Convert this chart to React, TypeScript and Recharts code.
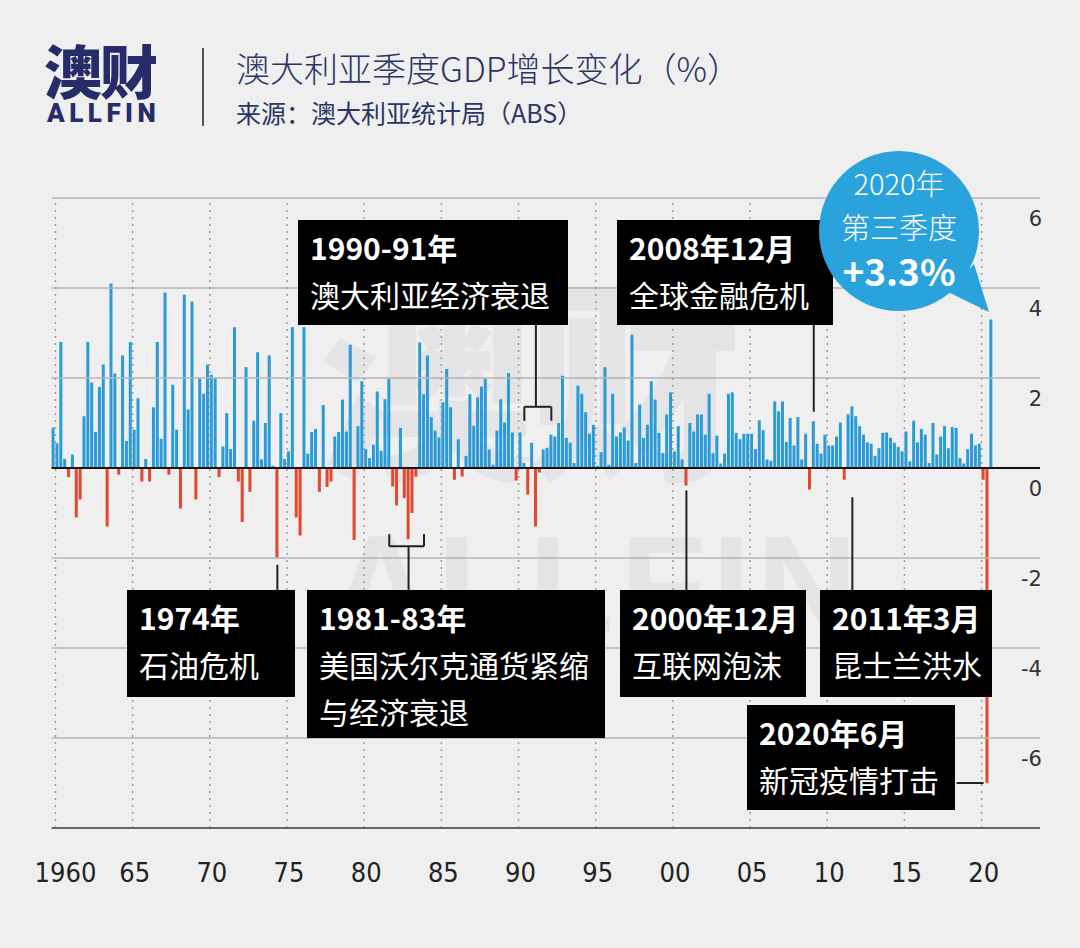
import React from 'react';
import { BarChart, Bar, XAxis, YAxis, ReferenceLine, Cell } from 'recharts';

// quarterly GDP growth, % q/q
const g1959 = [0.9];
const g1960s = [
  0.55, 2.8, 0.2, -0.2, 0.3, -1.1, -0.7, 1.15, 2.8, 1.9, 0.8, 1.8, 2.3, -1.3, 4.1, 2.1, -0.15, 2.5, 0.6, 2.8,
  0.85, 1.55, -0.3, 0.2, -0.3, 1.35, 2.8, 0.65, 3.9, -0.15, 1.85, 0.85, -0.9, 3.85, 1.3, 3.7, -0.7, 2.0, 1.65, 2.3,
];
const g1970s = [
  2.07, 2.0, -0.2, 0.48, 1.22, 0.42, 3.13, -0.3, -1.2, 2.24, -0.53, 1.05, 2.57, 0.19, 1.0, 2.5, 0.05, -2.0, 1.22, 0.2,
  0.37, 3.13, -1.1, -1.5, 3.13, 0.32, 0.8, 0.87, -0.53, 1.4, -0.42, -0.3, 0.7, 0.8, 1.52, 0.81, 2.74, -1.6, 0.93, 1.93,
];
const g1980s = [
  0.42, 0.22, 0.52, 1.7, 0.38, 1.53, 1.98, -0.41, -0.83, 0.89, -0.67, -1.58, -1.0, -0.19, 2.79, 1.64, 2.5, 1.13, 0.83, 0.68,
  1.46, 2.2, 1.35, -0.26, 0.64, -0.19, 0.27, 1.64, 0.94, 1.57, 1.81, 1.98, 0.41, 0.07, 0.83, 1.53, 1.01, 2.11, 0.79, -0.28,
];
const g1990s = [
  0.79, 0.11, -0.59, 0.56, -1.3, -0.1, 0.41, 0.45, 0.74, 0.7, 1.0, 2.05, 0.67, 0.56, 0.11, 1.83, 1.65, 1.24, 0.76, 0.96,
  0.05, 0.35, 2.24, 0.07, 1.65, 0.7, 0.79, 0.9, 0.61, 2.96, 0.11, 1.41, 0.67, 0.96, 1.93, 1.52, 0.78, 0.33, 1.19, 1.68,
];
const g2000s = [
  0.37, 0.93, 0.19, -0.39, 1.0, 0.81, 1.19, 1.19, 0.74, 1.65, 0.33, 0.72, 0.1, 0.32, 1.65, 1.68, 0.78, 0.64, 0.76, 0.76,
  0.76, 0.42, 1.06, 0.84, 0.19, 0.16, 1.48, 1.26, 1.48, 0.58, 1.11, 0.5, 1.13, 0.19, 0.76, -0.48, 1.04, 0.54, 0.32, 0.74,
];
const g2010s = [
  0.5, 0.5, 0.7, 1.01, -0.26, 1.19, 1.37, 1.15, 0.93, 0.74, 0.57, 0.54, 0.27, 0.44, 0.78, 0.79, 0.67, 0.56, 0.47, 0.37,
  0.81, 0.15, 1.05, 0.57, 0.87, 0.74, 0.11, 1.0, 0.3, 0.7, 0.93, 0.44, 0.91, 0.89, 0.22, 0.1, 0.42, 0.76, 0.5, 0.54,
];
const g2020s = [-0.26, -7.0, 3.3];

const growth = [...g1959, ...g1960s, ...g1970s, ...g1980s, ...g1990s, ...g2000s, ...g2010s, ...g2020s];

const quarters: string[] = ['1959Q4'];
for (let y = 1960; y <= 2020; y++) {
  for (let q = 1; q <= 4; q++) quarters.push(`${y}Q${q}`);
}

const data = growth.map((v, i) => ({ quarter: quarters[i], growth: v }));

const yearKeys = ['1960Q1', '1965Q1', '1970Q1', '1975Q1', '1980Q1', '1985Q1', '1990Q1', '1995Q1', '2000Q1', '2005Q1', '2010Q1', '2015Q1', '2020Q1'];
const yearLabels = ['1960', '65', '70', '75', '80', '85', '90', '95', '00', '05', '10', '15', '20'];
const yTicks = [6, 4, 2, 0, -2, -4, -6];
const gridLevels = [6, 4, 2, -2, -4, -6];

const BLUE = '#2a9bd6';
const RED = '#e5462e';
const CJK = '"Noto Sans CJK SC", "Noto Sans", sans-serif';

const XTick = (props: any) => {
  const { x, payload } = props;
  const idx = yearKeys.indexOf(payload.value);
  if (idx < 0) return <g />;
  const cx = x - 1.9 + (idx === 0 ? 10 : 2);
  return (
    <text x={cx} y={882} textAnchor="middle" fontSize={27} fill="#222"
      fontFamily='"Liberation Sans Narrow", "DejaVu Sans Condensed", sans-serif'>
      {yearLabels[idx]}
    </text>
  );
};

const YTick = (props: any) => {
  const { y, payload } = props;
  return (
    <text x={1042} y={y + 28} textAnchor="end" fontSize={21} fill="#333" fontFamily='"DejaVu Sans", sans-serif'>
      {payload.value}
    </text>
  );
};

const boxStyle = (left: number, top: number, width: number, height: number): React.CSSProperties => ({
  position: 'absolute', left, top, width, height, background: '#000', color: '#fff',
  fontFamily: CJK, fontSize: 30, lineHeight: '47px', paddingTop: 4, paddingLeft: 12, boxSizing: 'border-box',
  whiteSpace: 'nowrap',
});

const Note = ({ left, top, width, height, head, lines }: any) => (
  <div style={boxStyle(left, top, width, height)}>
    <div style={{ fontWeight: 700 }}>{head}</div>
    {lines.map((l: string) => <div key={l}>{l}</div>)}
  </div>
);

const seg = { stroke: '#222', strokeWidth: 2, ifOverflow: 'visible' as const };

export default function App() {
  return (
    <div style={{ position: 'absolute', left: 0, top: 0, width: 1080, height: 948, background: '#efeff0', overflow: 'hidden' }}>
      {/* watermark */}
      <div style={{ position: 'absolute', left: 318, top: 262, fontFamily: CJK, fontWeight: 900, fontSize: 215, lineHeight: 1, color: '#e4e4e6', letterSpacing: -6 }}>澳财</div>
      <div style={{ position: 'absolute', left: 330, top: 515, fontFamily: '"Liberation Sans Narrow", sans-serif', fontWeight: 700, fontSize: 140, lineHeight: 1, color: '#e4e4e6', letterSpacing: 6 }}>ALLFIN</div>

      {/* header */}
      <div style={{ position: 'absolute', left: 44, top: 40, fontFamily: CJK, fontWeight: 900, fontSize: 58, lineHeight: 1, color: '#262c6a', letterSpacing: -2 }}>澳财</div>
      <div style={{ position: 'absolute', left: 47, top: 100, fontFamily: '"Roboto", "Noto Sans", sans-serif', fontWeight: 900, fontSize: 26, lineHeight: 1, color: '#262c6a', letterSpacing: 4.5 }}>ALLFIN</div>
      <div style={{ position: 'absolute', left: 202, top: 48, width: 2, height: 78, background: '#555' }} />
      <div style={{ position: 'absolute', left: 236, top: 49, fontFamily: CJK, fontWeight: 300, fontSize: 34, lineHeight: '38px', color: '#2b3566' }}>澳大利亚季度GDP增长变化（%）</div>
      <div style={{ position: 'absolute', left: 236, top: 97, fontFamily: CJK, fontSize: 25, lineHeight: '30px', color: '#2b3566' }}>来源：澳大利亚统计局（ABS）</div>

      <div style={{ position: 'absolute', left: 0, top: 0 }}>
        <BarChart width={1080} height={948} data={data} margin={{ top: 198, right: 0, bottom: 90, left: 51.6 }} barSize={3}>
          <XAxis dataKey="quarter" height={30} interval={0} tick={<XTick />} axisLine={false} tickLine={false} padding={{ left: 0, right: 46.8 }} />
          <YAxis orientation="right" width={40} domain={[-8, 6]} ticks={yTicks} tick={<YTick />} axisLine={false} tickLine={false} />
          {gridLevels.map((g) => (
            <ReferenceLine key={g} y={g} stroke="#b4b4b4" strokeWidth={1.5} />
          ))}
          {yearKeys.map((k) => (
            <ReferenceLine key={k} x={k} position="start" stroke="#9c9c9c" strokeWidth={1.5} strokeDasharray="2 5" />
          ))}
          <Bar dataKey="growth" isAnimationActive={false}>
            {data.map((d) => (
              <Cell key={d.quarter} fill={d.growth >= 0 ? BLUE : RED} />
            ))}
          </Bar>
          <ReferenceLine y={0} stroke="#111" strokeWidth={2} />
          <ReferenceLine y={-8} stroke="#666" strokeWidth={2} />

          {/* 1990-91 bracket */}
          <ReferenceLine segment={[{ x: '1990Q2', y: 1.36 }, { x: '1992Q1', y: 1.36 }]} {...seg} />
          <ReferenceLine segment={[{ x: '1990Q2', y: 1.36 }, { x: '1990Q2', y: 1.05 }]} {...seg} />
          <ReferenceLine segment={[{ x: '1992Q1', y: 1.36 }, { x: '1992Q1', y: 1.05 }]} {...seg} />
          <ReferenceLine segment={[{ x: '1991Q1', y: 1.36 }, { x: '1991Q1', y: 3.18 }]} {...seg} />
          {/* 2008 */}
          <ReferenceLine segment={[{ x: '2009Q1', y: 1.25 }, { x: '2009Q1', y: 3.18 }]} {...seg} />
          {/* 1974 */}
          <ReferenceLine segment={[{ x: '1974Q2', y: -2.15 }, { x: '1974Q2', y: -2.71 }]} {...seg} />
          {/* 1981-83 bracket */}
          <ReferenceLine segment={[{ x: '1981Q3', y: -1.74 }, { x: '1983Q4', y: -1.74 }]} {...seg} />
          <ReferenceLine segment={[{ x: '1981Q3', y: -1.74 }, { x: '1981Q3', y: -1.47 }]} {...seg} />
          <ReferenceLine segment={[{ x: '1983Q4', y: -1.74 }, { x: '1983Q4', y: -1.47 }]} {...seg} />
          <ReferenceLine segment={[{ x: '1982Q4', y: -1.74 }, { x: '1982Q4', y: -2.71 }]} {...seg} />
          {/* 2000 */}
          <ReferenceLine segment={[{ x: '2000Q4', y: -0.5 }, { x: '2000Q4', y: -2.71 }]} {...seg} />
          {/* 2011 */}
          <ReferenceLine segment={[{ x: '2011Q3', y: -0.65 }, { x: '2011Q3', y: -2.71 }]} {...seg} />
          {/* 2020 June */}
          <ReferenceLine segment={[{ x: '2018Q2', y: -7.0 }, { x: '2020Q1', y: -7.0 }]} {...seg} />
        </BarChart>
      </div>

      {/* annotations */}
      <Note left={298} top={220} width={270} height={105} head="1990-91年" lines={['澳大利亚经济衰退']} />
      <Note left={617} top={220} width={216} height={105} head="2008年12月" lines={['全球金融危机']} />
      <Note left={127} top={590} width={168} height={107} head="1974年" lines={['石油危机']} />
      <Note left={307} top={590} width={298} height={148} head="1981-83年" lines={['美国沃尔克通货紧缩', '与经济衰退']} />
      <Note left={620} top={590} width={186} height={107} head="2000年12月" lines={['互联网泡沫']} />
      <Note left={820} top={590} width={172} height={107} head="2011年3月" lines={['昆士兰洪水']} />
      <Note left={747} top={705} width={208} height={105} head="2020年6月" lines={['新冠疫情打击']} />

      {/* bubble */}
      <svg style={{ position: 'absolute', left: 0, top: 0 }} width={1080} height={948}>
        <polygon points="948,292 974,264 989,312" fill="#2aa3dd" />
        <circle cx={899} cy={231} r={80} fill="#2aa3dd" />
      </svg>
      <div style={{ position: 'absolute', left: 819, top: 160, width: 160, textAlign: 'center', color: '#fff', fontFamily: CJK }}>
        <div style={{ fontSize: 29, lineHeight: '44px', fontWeight: 300 }}>2020年</div>
        <div style={{ fontSize: 29, lineHeight: '44px', fontWeight: 300 }}>第三季度</div>
        <div style={{ fontSize: 37, lineHeight: '44px', fontWeight: 700 }}>+3.3%</div>
      </div>
    </div>
  );
}
